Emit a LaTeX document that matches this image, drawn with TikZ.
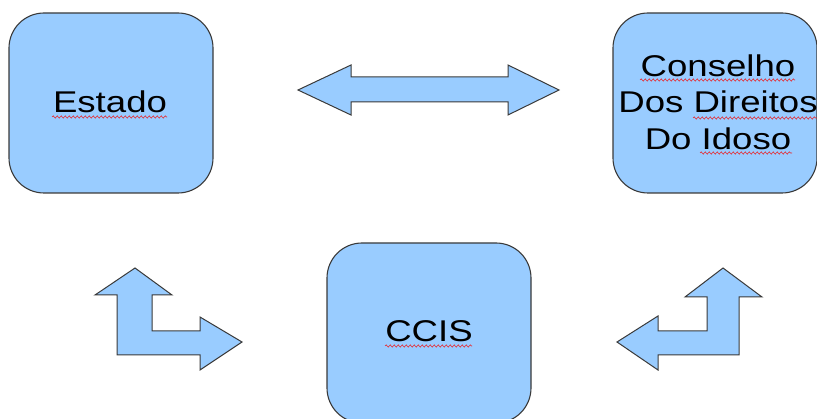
\documentclass[tikz,border=0pt]{standalone}
\usepackage{fontspec}
\setmainfont{Liberation Sans}
\newfontfamily\widesans[FakeStretch=1.22]{Liberation Sans}
\usetikzlibrary{decorations.pathmorphing}
\definecolor{boxfill}{HTML}{99CCFF}
\definecolor{boxline}{HTML}{3A3A3A}
\definecolor{spell}{HTML}{E8262B}
\tikzset{
  roundbox/.style={draw=boxline, fill=boxfill, line width=1.1pt,
    rounded corners=35pt, minimum width=204pt, minimum height=180pt,
    inner sep=0pt},
  label text/.style={inner sep=0pt, align=center,
    font=\widesans\fontsize{30}{36.5}\selectfont},
  blockarrow/.style={draw=boxline, fill=boxfill, line width=1pt,
    line join=miter},
  squiggle/.style={draw=spell, line width=0.6pt,
    decorate, decoration={snake, amplitude=1.1pt, segment length=4pt}}
}
\begin{document}
\begin{tikzpicture}[x=1pt, y=-1pt]
\useasboundingbox (0,0) rectangle (817,419);

% boxes
\node[roundbox] (estado) at (111,103) {};
\node[roundbox] (conselho) at (715,103) {};
\node[roundbox] (ccis) at (429,333) {};

% texts
\node[label text] (estadotxt) at (110,102) {Estado};
\node[label text] (conselhotxt) at (718,102) {Conselho\\Dos Direitos\\Do Idoso};
\node[label text] (ccistxt) at (429,331) {CCIS};

% spell-check underlines
\draw[squiggle] (52,117) -- (167,117);
\draw[squiggle] (640,80) -- (795,80);
\draw[squiggle] (693,118) -- (817,118);
\draw[squiggle] (700,153) -- (792,153);
\draw[squiggle] (385,346) -- (472,346);

% double arrow between Estado and Conselho
\draw[blockarrow] (298,90) -- (351,65) -- (351,77) -- (508,77) -- (508,65)
  -- (559,90) -- (508,115) -- (508,102) -- (351,102) -- (351,115) -- cycle;

% bent arrow, lower left
\draw[blockarrow] (135,268) -- (172,295) -- (152,295) -- (152,331) -- (200,331)
  -- (200,317) -- (242,342) -- (200,370) -- (200,355) -- (117,355)
  -- (117,295) -- (95,295) -- cycle;

% bent arrow, lower right
\draw[blockarrow] (723,268) -- (762,297) -- (739,297) -- (739,355) -- (658,355)
  -- (658,370) -- (617,342) -- (658,316) -- (658,331) -- (707,331)
  -- (707,297) -- (685,297) -- cycle;
\end{tikzpicture}
\end{document}
